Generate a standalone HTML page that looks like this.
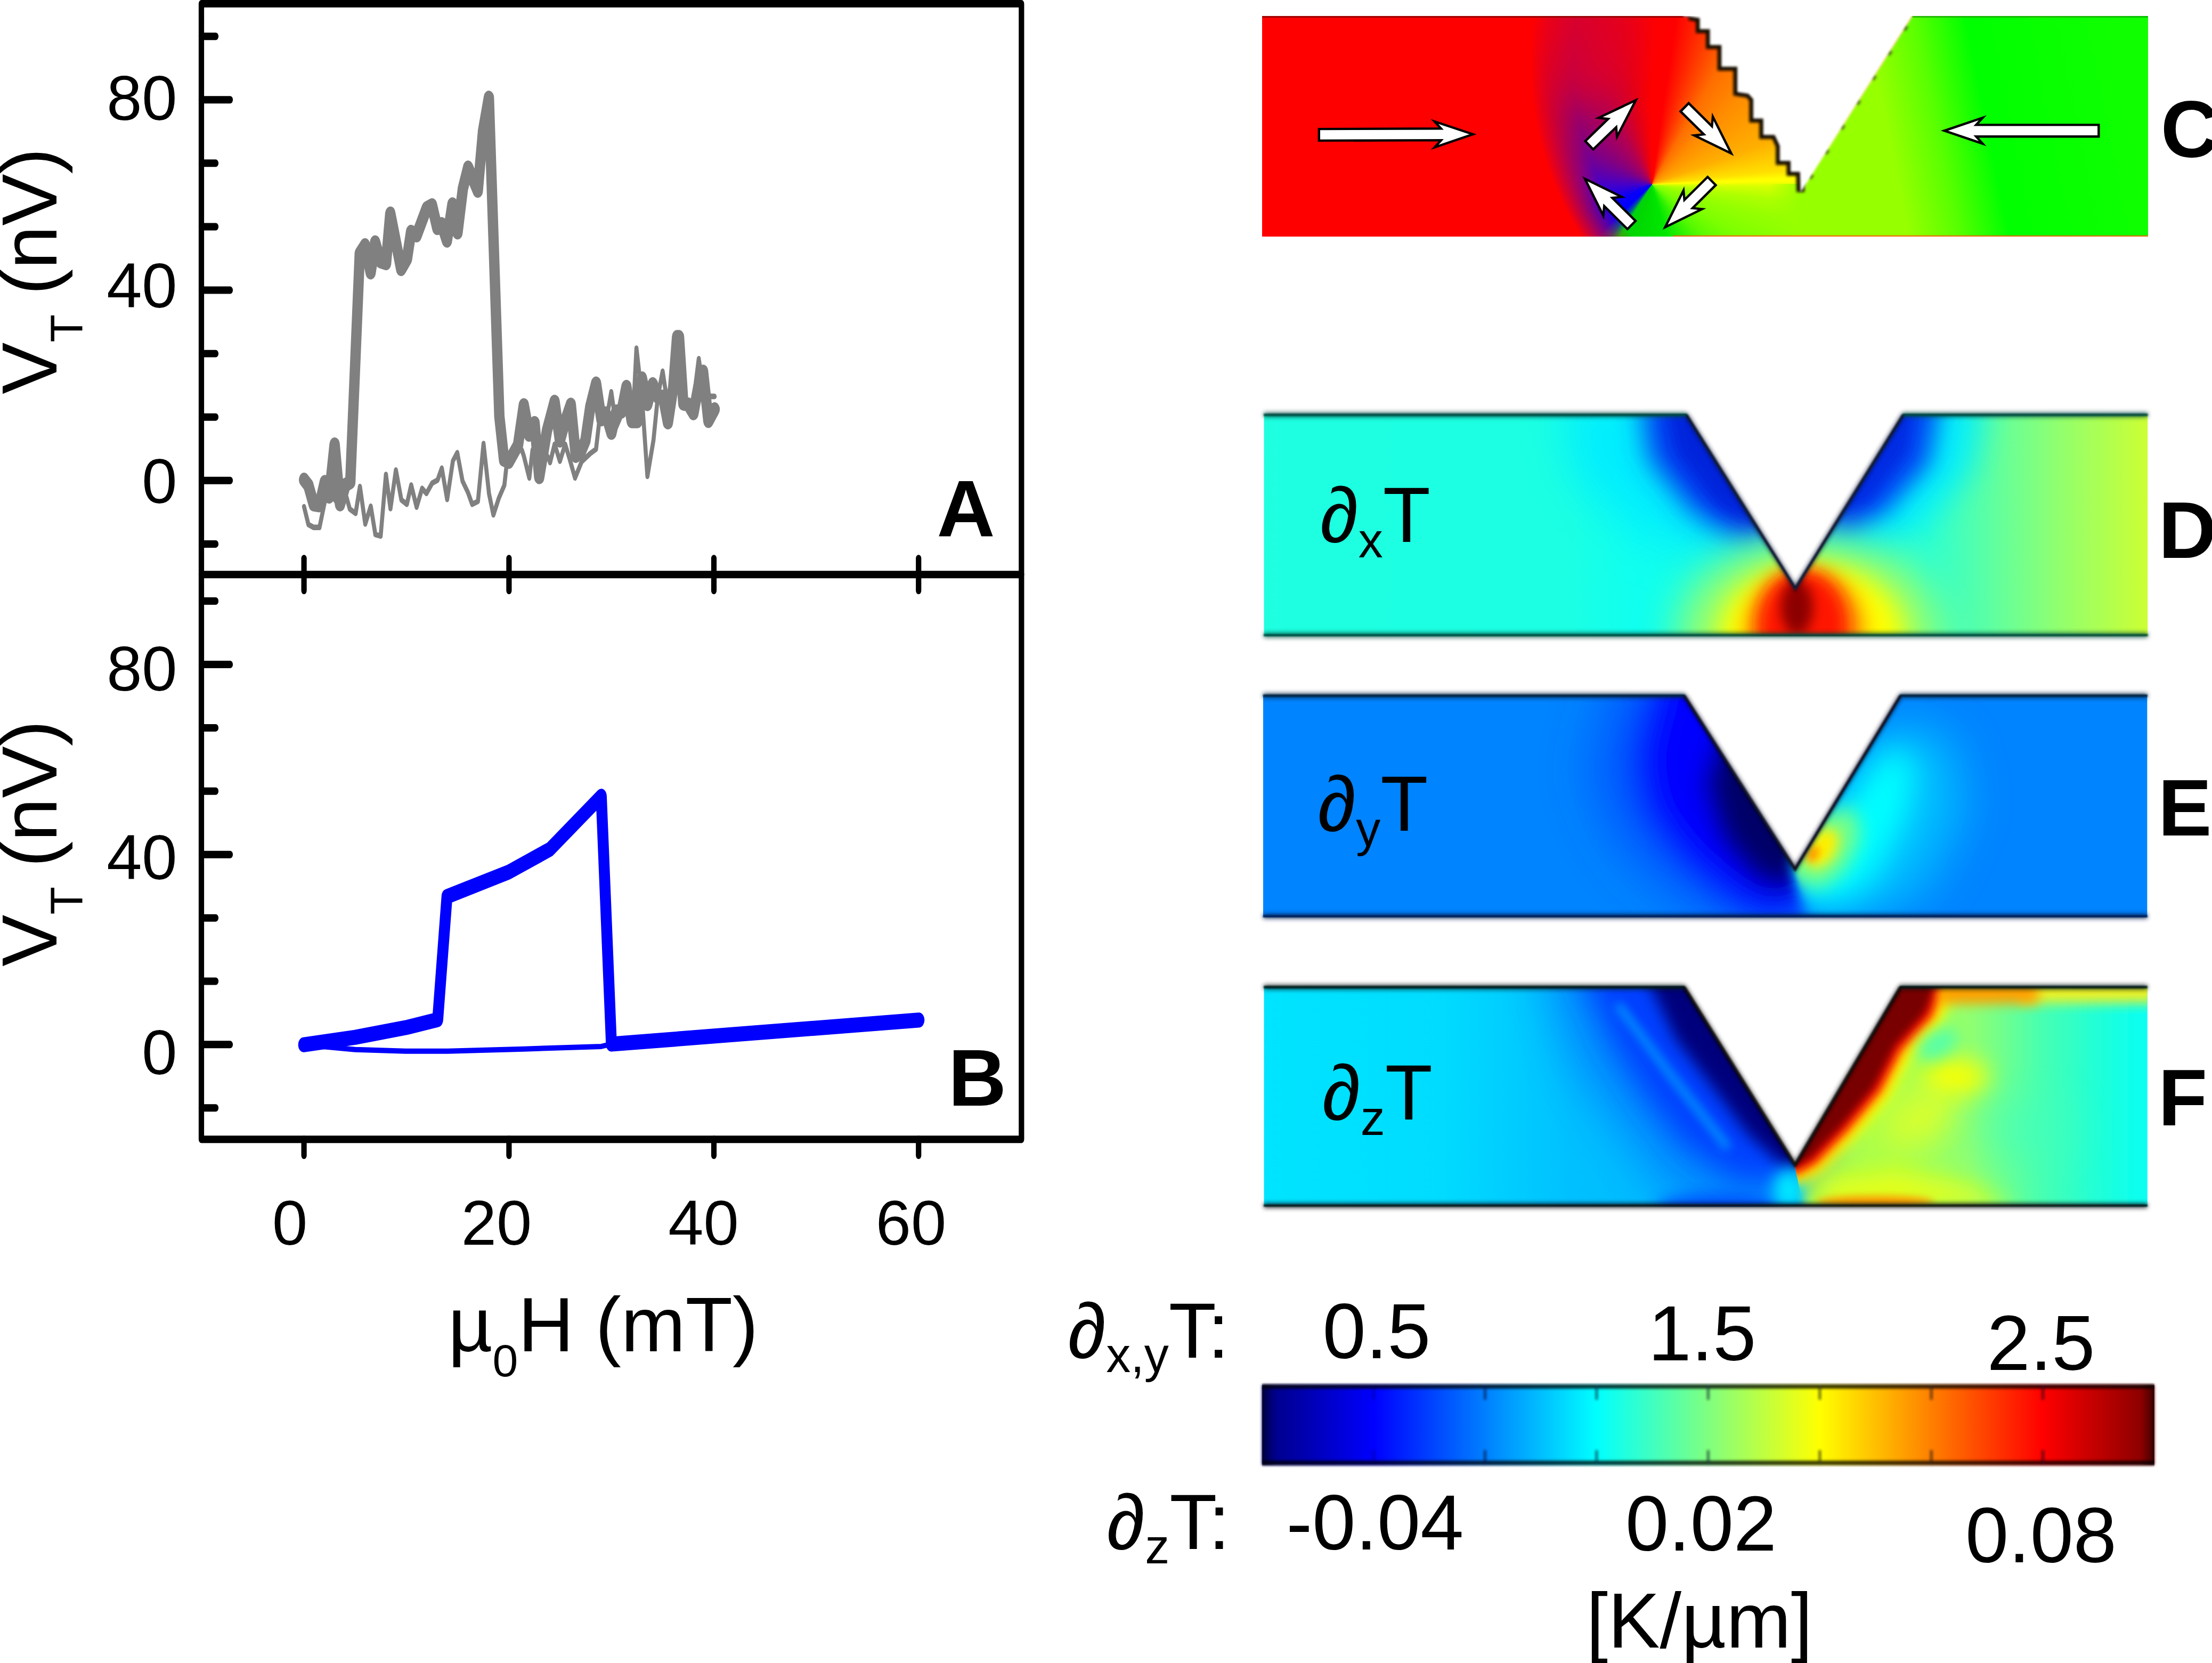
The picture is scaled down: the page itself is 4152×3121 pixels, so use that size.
<!DOCTYPE html><html><head><meta charset="utf-8"><title>Figure</title>
<style>html,body{margin:0;padding:0;background:#fff}body{width:4152px;height:3121px;position:relative;overflow:hidden}svg{position:absolute;left:0;top:0}text{font-family:"Liberation Sans", sans-serif;fill:#000}#vortex{position:absolute;left:2369px;top:30px;width:1663px;height:414px;background:conic-gradient(from 0deg at 732px 316px,#ff0000 0deg,#ff0000 8deg,#ff3c00 20deg,#ff6e00 30deg,#ff8c00 45deg,#ffaf00 70deg,#ffe000 84deg,#ffff00 87.5deg,#ffff00 88.5deg,#d7ff00 91deg,#afff00 97deg,#96ff00 105deg,#7dff00 120deg,#5afa00 135deg,#28f000 150deg,#00e600 165deg,#00d700 200deg,#00d210 212deg,#0050a0 219deg,#0000ff 227deg,#0a00f5 245deg,#4600c8 270deg,#820082 300deg,#b40050 330deg,#e60014 350deg,#ff0000 360deg)}</style></head><body>
<div id="vortex"></div>
<svg width="4152" height="3121" viewBox="0 0 4152 3121">
<defs>
<linearGradient id="jet" x1="0" x2="1" y1="0" y2="0"><stop offset="0" stop-color="#00007f"/><stop offset="0.125" stop-color="#0000ff"/><stop offset="0.375" stop-color="#00ffff"/><stop offset="0.625" stop-color="#ffff00"/><stop offset="0.875" stop-color="#ff0000"/><stop offset="1" stop-color="#7f0000"/></linearGradient>
</defs>
<g transform="scale(1,1.37)" fill="none" stroke="#000" stroke-width="10.2" stroke-linecap="round" stroke-linejoin="round">
<path d="M378.0 5.1 L1917.3 5.1 L1917.3 1560.8 L378.0 1560.8 Z"/>
<path d="M378.0 787.0 L1917.3 787.0"/>
<path d="M378.0 745.2 L405.0 745.2"/>
<path d="M378.0 658.2 L432.0 658.2"/>
<path d="M378.0 571.3 L405.0 571.3"/>
<path d="M378.0 484.4 L405.0 484.4"/>
<path d="M378.0 397.5 L432.0 397.5"/>
<path d="M378.0 310.6 L405.0 310.6"/>
<path d="M378.0 223.6 L405.0 223.6"/>
<path d="M378.0 136.7 L432.0 136.7"/>
<path d="M378.0 49.8 L405.0 49.8"/>
<path d="M378.0 1517.7 L405.0 1517.7"/>
<path d="M378.0 1430.9 L432.0 1430.9"/>
<path d="M378.0 1344.2 L405.0 1344.2"/>
<path d="M378.0 1257.4 L405.0 1257.4"/>
<path d="M378.0 1170.6 L432.0 1170.6"/>
<path d="M378.0 1083.8 L405.0 1083.8"/>
<path d="M378.0 997.0 L405.0 997.0"/>
<path d="M378.0 910.2 L432.0 910.2"/>
<path d="M378.0 823.4 L405.0 823.4"/>
<path d="M570.6 765.1 L570.6 808.9"/>
<path d="M570.6 1560.8 L570.6 1582.7"/>
<path d="M955.4 765.1 L955.4 808.9"/>
<path d="M955.4 1560.8 L955.4 1582.7"/>
<path d="M1340.0 765.1 L1340.0 808.9"/>
<path d="M1340.0 1560.8 L1340.0 1582.7"/>
<path d="M1724.2 765.1 L1724.2 808.9"/>
<path d="M1724.2 1560.8 L1724.2 1582.7"/>
</g>
<g transform="scale(1,1.37)" fill="none" stroke-linecap="round" stroke-linejoin="round">
<path d="M570.7 694.1 L578.9 718.5 L588.8 722.5 L599.7 722.5 L610.5 684.2 L620.0 675.2 L630.0 686.1 L640.0 671.5 L650.3 680.9 L656.6 697.4 L667.5 703.3 L675.6 666.4 L685.6 717.8 L695.9 693.4 L704.6 732.3 L714.5 734.3 L724.4 649.9 L732.9 696.7 L743.1 643.9 L753.4 684.8 L763.7 690.8 L771.8 664.4 L782.0 694.7 L792.3 669.0 L800.4 676.0 L811.2 661.8 L821.2 657.8 L829.3 641.3 L839.3 684.2 L850.1 631.4 L858.3 620.1 L868.2 659.1 L878.2 674.3 L886.3 690.8 L897.1 686.8 L907.6 607.6 L917.9 676.3 L926.1 705.3 L936.2 682.6 L946.7 664.7 L952.4 627.1 L962.0 620.4 L972.0 613.1 L979.6 616.6 L983.2 624.5 L993.5 654.8 L999.5 616.6 L1010.0 605.8 L1020.0 616.8 L1029.3 627.1 L1032.5 633.7 L1041.0 608.6 L1051.0 631.8 L1060.9 608.6 L1069.1 628.4 L1079.4 654.8 L1091.7 632.4 L1108.0 621.2 L1118.8 615.3 L1126.9 563.7 L1141.0 563.5 L1147.4 536.7 L1156.8 584.9 L1166.0 569.3 L1176.0 554.7 L1187.5 580.3 L1194.6 476.9 L1204.9 543.6 L1215.2 652.5 L1226.6 602.9 L1234.7 543.6 L1243.8 508.5 L1253.7 556.7 L1264.0 540.1 L1274.0 525.5 L1284.0 554.7 L1294.0 562.0 L1302.0 547.4 L1311.6 491.4 L1319.7 530.4 L1328.0 543.8 L1335.0 542.9 L1341.4 543.1" stroke="#808080" stroke-width="7.6"/>
<path d="M570.7 657.2 L578.9 665.0 L588.8 690.8 L599.7 692.1 L609.6 660.4 L617.8 680.2 L628.1 608.9 L638.2 690.8 L648.5 664.4 L657.5 660.4 L675.3 347.3 L685.2 336.1 L695.7 373.1 L704.2 332.1 L714.1 357.9 L724.6 360.5 L732.6 292.6 L753.0 368.5 L763.9 354.6 L771.6 317.7 L782.0 322.3 L801.0 285.3 L810.9 281.3 L820.8 312.3 L829.0 307.1 L838.9 329.5 L849.2 280.0 L858.8 318.3 L868.8 258.6 L878.7 229.6 L896.8 261.3 L906.7 179.4 L917.6 133.9 L937.3 570.4 L946.1 629.7 L955.2 632.4 L972.3 609.9 L983.2 555.2 L993.1 595.4 L1003.4 579.6 L1012.1 653.5 L1026.6 590.1 L1041.0 550.5 L1051.0 603.4 L1060.9 576.9 L1071.4 554.5 L1080.8 624.5 L1089.9 619.2 L1098.9 603.4 L1108.0 557.2 L1118.8 525.5 L1128.8 574.3 L1136.9 566.4 L1147.7 592.8 L1156.8 563.7 L1166.7 563.7 L1175.8 530.1 L1185.7 576.9 L1196.6 576.9 L1204.9 518.5 L1215.2 553.4 L1225.3 526.4 L1234.7 543.6 L1244.7 543.6 L1253.7 578.5 L1263.7 530.4 L1270.9 461.7 L1274.5 461.7 L1282.6 552.8 L1291.7 554.1 L1301.6 566.0 L1310.7 530.4 L1319.7 509.2 L1329.7 576.6 L1341.4 560.7" stroke="#808080" stroke-width="19.5"/>
<path d="M570.0 1431.2 L666.6 1437.7 L761.5 1440.0 L840.6 1440.0 L983.0 1437.0 L1128.6 1433.5 L1147.6 1430.1" stroke="#0000ff" stroke-width="7.3"/>
<path d="M570.0 1431.2 L666.6 1421.0 L764.7 1407.2 L821.6 1396.8 L839.0 1228.2 L954.6 1194.7 L1032.0 1163.5 L1128.6 1090.7 L1147.6 1430.3 L1725.0 1397.4" stroke="#0000ff" stroke-width="20.6"/>
</g>
<text x="332.5" y="224.5" font-size="119" text-anchor="end" font-weight="normal">80</text>
<text x="332.5" y="576.5" font-size="119" text-anchor="end" font-weight="normal">40</text>
<text x="332.5" y="943.5" font-size="119" text-anchor="end" font-weight="normal">0</text>
<text x="332.5" y="1296.0" font-size="119" text-anchor="end" font-weight="normal">80</text>
<text x="332.5" y="1649.5" font-size="119" text-anchor="end" font-weight="normal">40</text>
<text x="332.5" y="2016.0" font-size="119" text-anchor="end" font-weight="normal">0</text>
<text x="544.0" y="2336.0" font-size="119" text-anchor="middle" font-weight="normal">0</text>
<text x="932.0" y="2336.0" font-size="119" text-anchor="middle" font-weight="normal">20</text>
<text x="1320.5" y="2336.0" font-size="119" text-anchor="middle" font-weight="normal">40</text>
<text x="1710.0" y="2336.0" font-size="119" text-anchor="middle" font-weight="normal">60</text>
<text x="1758.5" y="1006.0" font-size="151" text-anchor="start" font-weight="bold">A</text>
<text x="1780.0" y="2074.5" font-size="151" text-anchor="start" font-weight="bold">B</text>
<text x="841" y="2535.5" font-size="145">µ<tspan font-size="86" dy="47">0</tspan><tspan dy="-47">H (mT)</tspan></text>
<text transform="translate(106,740) rotate(-90)" font-size="146">V<tspan font-size="86" dy="48">T</tspan><tspan dy="-48" dx="-4"> (nV)</tspan></text>
<text transform="translate(106,1814) rotate(-90)" font-size="146">V<tspan font-size="86" dy="48">T</tspan><tspan dy="-48" dx="-4"> (nV)</tspan></text>
<defs>
<radialGradient id="cRed" gradientUnits="userSpaceOnUse" cx="3473.7" cy="118" r="700"><stop offset="0" stop-color="#ff0000" stop-opacity="0"/><stop offset="0.745" stop-color="#ff0000" stop-opacity="0"/><stop offset="0.86" stop-color="#ff0000" stop-opacity="1"/><stop offset="1" stop-color="#ff0000" stop-opacity="1"/></radialGradient>
<linearGradient id="cTopRed" gradientUnits="userSpaceOnUse" x1="0" x2="0" y1="30" y2="270"><stop offset="0" stop-color="#e60020" stop-opacity="0.6"/><stop offset="1" stop-color="#e60020" stop-opacity="0"/></linearGradient>
<linearGradient id="cGreen" gradientUnits="userSpaceOnUse" x1="3378" x2="4006" y1="300" y2="174"><stop offset="0" stop-color="#96ff00"/><stop offset="0.27" stop-color="#96ff00"/><stop offset="0.41" stop-color="#5aff00"/><stop offset="0.56" stop-color="#00ff00"/><stop offset="1" stop-color="#10ff00"/></linearGradient>
<linearGradient id="cGreenFade" gradientUnits="userSpaceOnUse" x1="3320" x2="3382" y1="0" y2="0"><stop offset="0" stop-color="#96ff00" stop-opacity="0"/><stop offset="1" stop-color="#96ff00" stop-opacity="1"/></linearGradient>
<clipPath id="clipC"><rect x="2369.0" y="30.0" width="1663.0" height="414.0"/></clipPath>
<filter id="b3" filterUnits="userSpaceOnUse" x="3100" y="0" width="600" height="460"><feGaussianBlur stdDeviation="2.6"/></filter>
<filter id="b30" x="-60%" y="-60%" width="220%" height="220%"><feGaussianBlur stdDeviation="32"/></filter>
<filter id="b2" filterUnits="userSpaceOnUse" x="2300" y="0" width="1800" height="500"><feGaussianBlur stdDeviation="2"/></filter>
</defs>
<g clip-path="url(#clipC)">
<ellipse cx="2985" cy="50" rx="95" ry="150" fill="#e60020" opacity="0.6" filter="url(#b30)"/>
<rect x="2369.0" y="30.0" width="900" height="414.0" fill="url(#cRed)"/>
<rect x="3320" y="345" width="70" height="102" fill="url(#cGreenFade)"/>
<polygon points="3379,358 3589,30 4032,30 4032,444 3379,444" fill="url(#cGreen)" filter="url(#b2)"/>
<polygon points="3400,380 3600,40 4032,30 4032,444 3400,444" fill="url(#cGreen)"/>
<path d="M2369.0 31.5 H3172" stroke="#8c0000" stroke-width="3.5" opacity="0.8"/>
<path d="M3589 31.5 H4032.0" stroke="#00a800" stroke-width="3" opacity="0.7"/>
<path d="M3140 443 H4032.0" stroke="#ff5a00" stroke-width="2.5" opacity="0.85"/>
</g>
<polyline points="3170.2,30.5 3190.5,34.0 3190.5,54.8 3209.5,54.8 3209.5,84.6 3231.2,84.6 3231.2,125.3 3261.0,125.3 3261.0,172.8 3282.0,176.0 3290.9,186.0 3290.9,222.5 3309.7,222.5 3309.7,253.2 3331.2,253.2 3340.7,273.6 3340.7,302.0 3361.0,302.0 3361.0,322.4 3378.7,322.4 3379.7,360.4" fill="none" stroke="#140a00" stroke-width="15" stroke-linejoin="miter" filter="url(#b3)"/>
<path d="M3381 358 L3589 30.5" stroke="#2a3c00" stroke-width="9" stroke-dasharray="9 46" stroke-dashoffset="-28" fill="none" opacity="0.8" filter="url(#b3)"/>
<polygon points="3170.2,30.5 3190.5,34.0 3190.5,54.8 3209.5,54.8 3209.5,84.6 3231.2,84.6 3231.2,125.3 3261.0,125.3 3261.0,172.8 3282.0,176.0 3290.9,186.0 3290.9,222.5 3309.7,222.5 3309.7,253.2 3331.2,253.2 3340.7,273.6 3340.7,302.0 3361.0,302.0 3361.0,322.4 3378.7,322.4 3379.7,360.4 3383.0,356.0 3589.0,30.5 3589.0,20.0 3160.0,20.0 3160.0,30.5" fill="#fff" filter="url(#b2)"/>
<rect x="3150" y="0" width="460" height="30" fill="#fff"/>
<polygon points="2990.6,280.4 3033.6,238.7 3035.2,256.6 3070.5,188.0 3000.8,221.1 3018.6,223.2 2975.6,264.8" fill="#fff" stroke="#000" stroke-width="4.4" stroke-linejoin="miter"/>
<polygon points="3154.5,209.1 3198.1,252.2 3180.3,254.2 3249.6,288.0 3215.0,219.0 3213.3,236.9 3169.7,193.7" fill="#fff" stroke="#000" stroke-width="4.4" stroke-linejoin="miter"/>
<polygon points="3205.3,332.0 3161.7,375.2 3160.0,357.4 3125.5,426.4 3194.8,392.5 3177.0,390.6 3220.5,347.4" fill="#fff" stroke="#000" stroke-width="4.4" stroke-linejoin="miter"/>
<polygon points="3070.0,414.6 3026.4,371.4 3044.2,369.5 2974.9,335.6 3009.4,404.6 3011.2,386.7 3054.8,430.0" fill="#fff" stroke="#000" stroke-width="4.4" stroke-linejoin="miter"/>
<polygon points="2475.8,263.9 2705.0,263.1 2692.9,276.5 2764.7,252.0 2692.7,228.0 2704.9,241.3 2475.8,242.1" fill="#fff" stroke="#000" stroke-width="4.4" stroke-linejoin="miter"/>
<polygon points="3939.3,234.4 3709.3,234.4 3721.5,221.0 3649.6,245.3 3721.5,269.6 3709.3,256.2 3939.3,256.2" fill="#fff" stroke="#000" stroke-width="4.4" stroke-linejoin="miter"/>
<text x="4055.8" y="295.0" font-size="151" text-anchor="start" font-weight="bold">C</text>
<defs><filter id="bl4" x="-50%" y="-50%" width="200%" height="200%"><feGaussianBlur stdDeviation="4"/></filter><filter id="bl6" x="-50%" y="-50%" width="200%" height="200%"><feGaussianBlur stdDeviation="6"/></filter><filter id="bl7" x="-50%" y="-50%" width="200%" height="200%"><feGaussianBlur stdDeviation="7"/></filter><filter id="bl8" x="-50%" y="-50%" width="200%" height="200%"><feGaussianBlur stdDeviation="8"/></filter><filter id="bl9" x="-50%" y="-50%" width="200%" height="200%"><feGaussianBlur stdDeviation="9"/></filter><filter id="bl10" x="-50%" y="-50%" width="200%" height="200%"><feGaussianBlur stdDeviation="10"/></filter><filter id="bl11" x="-50%" y="-50%" width="200%" height="200%"><feGaussianBlur stdDeviation="11"/></filter><filter id="bl12" x="-50%" y="-50%" width="200%" height="200%"><feGaussianBlur stdDeviation="12"/></filter><filter id="bl13" x="-50%" y="-50%" width="200%" height="200%"><feGaussianBlur stdDeviation="13"/></filter><filter id="bl14" x="-50%" y="-50%" width="200%" height="200%"><feGaussianBlur stdDeviation="14"/></filter><filter id="bl15" x="-50%" y="-50%" width="200%" height="200%"><feGaussianBlur stdDeviation="15"/></filter><filter id="bl17" x="-50%" y="-50%" width="200%" height="200%"><feGaussianBlur stdDeviation="17"/></filter><filter id="bl18" x="-50%" y="-50%" width="200%" height="200%"><feGaussianBlur stdDeviation="18"/></filter><filter id="bl21" x="-50%" y="-50%" width="200%" height="200%"><feGaussianBlur stdDeviation="21"/></filter><filter id="bl22" x="-50%" y="-50%" width="200%" height="200%"><feGaussianBlur stdDeviation="22"/></filter><filter id="bl26" x="-50%" y="-50%" width="200%" height="200%"><feGaussianBlur stdDeviation="26"/></filter><filter id="bl28" x="-50%" y="-50%" width="200%" height="200%"><feGaussianBlur stdDeviation="28"/></filter><filter id="bl30" x="-50%" y="-50%" width="200%" height="200%"><feGaussianBlur stdDeviation="30"/></filter><filter id="bl38" x="-50%" y="-50%" width="200%" height="200%"><feGaussianBlur stdDeviation="38"/></filter><filter id="bl40" x="-50%" y="-50%" width="200%" height="200%"><feGaussianBlur stdDeviation="40"/></filter><filter id="bl42" x="-50%" y="-50%" width="200%" height="200%"><feGaussianBlur stdDeviation="42"/></filter><filter id="bl45" x="-50%" y="-50%" width="200%" height="200%"><feGaussianBlur stdDeviation="45"/></filter><filter id="edge" filterUnits="userSpaceOnUse" x="2300" y="700" width="1800" height="1700"><feGaussianBlur stdDeviation="1.5"/></filter><filter id="edgeSoft" filterUnits="userSpaceOnUse" x="2300" y="700" width="1800" height="1700"><feGaussianBlur stdDeviation="4.5"/></filter></defs><linearGradient id="gD" gradientUnits="userSpaceOnUse" x1="2372.3" x2="4031.4" y1="0" y2="0"><stop offset="0.0000" stop-color="#1fffe0"/><stop offset="0.0250" stop-color="#1effe1"/><stop offset="0.0500" stop-color="#1effe1"/><stop offset="0.0750" stop-color="#1effe1"/><stop offset="0.1000" stop-color="#1effe1"/><stop offset="0.1250" stop-color="#1effe1"/><stop offset="0.1500" stop-color="#1dffe2"/><stop offset="0.1750" stop-color="#1dffe2"/><stop offset="0.2000" stop-color="#1dffe2"/><stop offset="0.2250" stop-color="#1dffe2"/><stop offset="0.2500" stop-color="#1cffe3"/><stop offset="0.2750" stop-color="#1cffe3"/><stop offset="0.3000" stop-color="#1cffe3"/><stop offset="0.3250" stop-color="#1cffe3"/><stop offset="0.3500" stop-color="#1bffe4"/><stop offset="0.3750" stop-color="#17ffe8"/><stop offset="0.4000" stop-color="#13ffec"/><stop offset="0.4250" stop-color="#10ffef"/><stop offset="0.4500" stop-color="#13ffec"/><stop offset="0.4750" stop-color="#17ffe8"/><stop offset="0.5000" stop-color="#1bffe4"/><stop offset="0.5250" stop-color="#1effe1"/><stop offset="0.5500" stop-color="#22ffdd"/><stop offset="0.5750" stop-color="#25ffda"/><stop offset="0.6000" stop-color="#26ffd9"/><stop offset="0.6250" stop-color="#27ffd8"/><stop offset="0.6500" stop-color="#29ffd6"/><stop offset="0.6750" stop-color="#2affd5"/><stop offset="0.7000" stop-color="#2bffd4"/><stop offset="0.7250" stop-color="#2cffd3"/><stop offset="0.7500" stop-color="#2effd1"/><stop offset="0.7750" stop-color="#3dffc2"/><stop offset="0.8000" stop-color="#4effb1"/><stop offset="0.8250" stop-color="#5fffa0"/><stop offset="0.8500" stop-color="#70ff8f"/><stop offset="0.8750" stop-color="#80ff7f"/><stop offset="0.9000" stop-color="#91ff6e"/><stop offset="0.9250" stop-color="#a0ff5f"/><stop offset="0.9500" stop-color="#aeff51"/><stop offset="0.9750" stop-color="#bdff42"/><stop offset="1.0000" stop-color="#ccff33"/></linearGradient>
<clipPath id="clipD"><polygon points="2372.3,777.5 3164.5,777.5 3369.9,1106 3573.3,777.5 4031.4,777.5 4031.4,1194 2372.3,1194"/></clipPath>
<g clip-path="url(#clipD)">
<rect x="2372.3" y="777.5" width="1659.1" height="416.5" fill="url(#gD)"/>
<polygon points="3400,740 2930,740 2960,900 3090,1010 3225,1055 3325,1038 3400,1038" fill="#00ecff" opacity="0.95" filter="url(#bl42)"/>
<polygon points="3340,740 3725,740 3700,880 3600,990 3500,1050 3415,1040 3340,1040" fill="#00ecff" opacity="0.95" filter="url(#bl30)"/>
<polygon points="3400,740 3080,740 3095,860 3175,960 3262,1012 3305,1003 3400,1003" fill="#0038f0" opacity="1" filter="url(#bl26)"/>
<polygon points="3400,740 3125,740 3150,850 3225,950 3290,985 3400,985" fill="#0020d8" opacity="0.9" filter="url(#bl14)"/>
<polygon points="3340,740 3645,740 3622,870 3542,960 3470,1000 3436,992 3340,992" fill="#0048f4" opacity="1" filter="url(#bl22)"/>
<polygon points="3340,740 3600,740 3580,850 3510,940 3465,960 3340,960" fill="#0028e0" opacity="0.85" filter="url(#bl12)"/>
<ellipse cx="3398" cy="1195" rx="245" ry="185" fill="#b4ff50" opacity="0.85" filter="url(#bl38)"/>
<ellipse cx="3400" cy="1192" rx="172" ry="132" fill="#ffff00" opacity="1" filter="url(#bl22)"/>
<ellipse cx="3388" cy="1185" rx="112" ry="118" fill="#ff9000" opacity="1" filter="url(#bl18)"/>
<ellipse cx="3384" cy="1175" rx="84" ry="104" fill="#ff1800" opacity="1" filter="url(#bl15)"/>
<ellipse cx="3373" cy="1140" rx="30" ry="52" fill="#8c0000" opacity="1" filter="url(#bl11)"/>
</g>
<g filter="url(#edgeSoft)" fill="none" opacity="0.75">
<path d="M2372.3 778.5 L3166.5 778.5 M3571.3 778.5 L4031.4 778.5" stroke="#004840" stroke-width="9"/>
<path d="M2372.3 1192 L4031.4 1192" stroke="#00483c" stroke-width="9"/>
<path d="M3165.5 778.5 L3369.9 1104 L3572.3 778.5" stroke="#101830" stroke-width="7" stroke-linejoin="miter"/>
</g>
<g filter="url(#edge)" fill="none" opacity="1">
<path d="M2372.3 778.5 L3166.5 778.5 M3571.3 778.5 L4031.4 778.5" stroke="#004840" stroke-width="4.5"/>
<path d="M2372.3 1192 L4031.4 1192" stroke="#00483c" stroke-width="4.2"/>
<path d="M3165.5 778.5 L3369.9 1104 L3572.3 778.5" stroke="#101830" stroke-width="5" stroke-linejoin="miter"/>
</g>
<clipPath id="clipE"><polygon points="2371,1304.5 3160.5,1304.5 3369.4,1633 3568.3,1304.5 4030.6,1304.5 4030.6,1721.5 2371,1721.5"/></clipPath>
<g clip-path="url(#clipE)">
<rect x="2371" y="1304.5" width="1659.6" height="417" fill="#0084ff"/>
<clipPath id="clipEl"><polygon points="2300,1250 3369,1250 3369,1633 3400,1740 2300,1740"/></clipPath>
<clipPath id="clipEr"><polygon points="3369,1250 4100,1250 4100,1740 3400,1740 3369,1633"/></clipPath>
<g filter="url(#bl13)"><g clip-path="url(#clipEl)">
<polygon points="3420,1250 3040,1250 2985,1450 3040,1585 3150,1685 3285,1760 3420,1760 3420,1633" fill="#0050ff" opacity="0.9" filter="url(#bl45)"/>
<polygon points="3420,1250 3128,1250 3082,1420 3100,1520 3170,1612 3270,1692 3335,1712 3385,1690 3420,1600" fill="#0000ff" opacity="1" filter="url(#bl30)"/>
<polygon points="3235,1380 3205,1470 3235,1570 3290,1640 3345,1668 3380,1640 3420,1600 3420,1380" fill="#000068" opacity="1" filter="url(#bl21)"/>
</g></g>
<g filter="url(#bl13)"><g clip-path="url(#clipEr)">
<polygon points="3340,1633 3480,1430 3565,1350 3665,1390 3690,1520 3615,1670 3490,1735 3380,1720 3340,1700" fill="#00c0ff" opacity="0.95" filter="url(#bl40)"/>
<polygon points="3340,1633 3470,1500 3550,1395 3597,1440 3577,1540 3516,1652 3440,1696 3380,1675 3340,1670" fill="#00ffff" opacity="1" filter="url(#bl26)"/>
</g></g>
<g filter="url(#bl4)"><g clip-path="url(#clipEr)">
<polygon points="3340,1640 3340,1560 3425,1530 3478,1515 3492,1570 3462,1632 3415,1668" fill="#7cff80" opacity="1" filter="url(#bl17)"/>
<ellipse cx="3420" cy="1592" rx="25" ry="40" fill="#fff000" opacity="1" filter="url(#bl10)" transform="rotate(32 3420 1592)"/>
<ellipse cx="3403" cy="1603" rx="10" ry="17" fill="#ff9800" opacity="1" filter="url(#bl6)" transform="rotate(32 3403 1603)"/>
</g></g>
</g>
<g filter="url(#edgeSoft)" fill="none" opacity="0.75">
<path d="M2371 1305.5 L3162.5 1305.5 M3566.3 1305.5 L4030.6 1305.5" stroke="#002040" stroke-width="9"/>
<path d="M2371 1719.5 L4030.6 1719.5" stroke="#001c50" stroke-width="9"/>
<path d="M3161.5 1305.5 L3369.4 1631 L3567.3 1305.5" stroke="#081020" stroke-width="7" stroke-linejoin="miter"/>
</g>
<g filter="url(#edge)" fill="none" opacity="1">
<path d="M2371 1305.5 L3162.5 1305.5 M3566.3 1305.5 L4030.6 1305.5" stroke="#002040" stroke-width="4.5"/>
<path d="M2371 1719.5 L4030.6 1719.5" stroke="#001c50" stroke-width="4.2"/>
<path d="M3161.5 1305.5 L3369.4 1631 L3567.3 1305.5" stroke="#081020" stroke-width="5" stroke-linejoin="miter"/>
</g>
<linearGradient id="gF" gradientUnits="userSpaceOnUse" x1="3369" x2="4030.6" y1="0" y2="0"><stop offset="0.0000" stop-color="#a8ff50"/><stop offset="0.2887" stop-color="#b0ff48"/><stop offset="0.5003" stop-color="#90ff70"/><stop offset="0.6968" stop-color="#48ffb0"/><stop offset="0.8631" stop-color="#20ffd8"/><stop offset="1.0000" stop-color="#08fff4"/></linearGradient>
<clipPath id="clipF"><polygon points="2372.3,1851.5 3160.5,1851.5 3369.4,2188 3568,1851.5 4030.6,1851.5 4030.6,2264.5 2372.3,2264.5"/></clipPath>
<g clip-path="url(#clipF)">
<linearGradient id="gFl" gradientUnits="userSpaceOnUse" x1="2372.3" x2="3369" y1="0" y2="0"><stop offset="0.0000" stop-color="#00e4ff"/><stop offset="0.3288" stop-color="#00dcff"/><stop offset="0.5796" stop-color="#00c0ff"/><stop offset="1.0000" stop-color="#00b4ff"/></linearGradient>
<rect x="2372.3" y="1851.5" width="1658.3" height="413" fill="url(#gFl)"/>
<polygon points="3369,2188 3568,1840 4050.6,1840 4050.6,2284.5 3388,2284.5" fill="url(#gF)" opacity="1" filter="url(#bl8)"/>
<polygon points="3420,1800 2890,1800 2955,2000 3040,2120 3120,2225 3200,2300 3335,2300 3369,2188 3420,2150" fill="#0088ff" opacity="0.95" filter="url(#bl42)"/>
<polygon points="3420,1800 2955,1800 3028,1960 3090,2060 3160,2150 3260,2218 3340,2218 3369,2188 3420,2150" fill="#0040ff" opacity="1" filter="url(#bl28)"/>
<polyline points="3040,1890 3130,2010 3240,2150" fill="none" stroke="#00a8ff" stroke-width="16" stroke-linecap="round" stroke-linejoin="round" opacity="0.75" filter="url(#bl9)"/>
<polygon points="3420,1800 3075,1800 3145,1950 3214,2040 3282,2130 3342,2184 3369,2188 3420,2150" fill="#00007c" opacity="1" filter="url(#bl14)"/>
<ellipse cx="3225" cy="2266" rx="115" ry="24" fill="#0048ff" opacity="0.9" filter="url(#bl14)"/>
<ellipse cx="3357" cy="2232" rx="28" ry="36" fill="#00f0ff" opacity="0.9" filter="url(#bl14)"/>
<clipPath id="clipFr"><polygon points="3369,1800 4100,1800 4100,2300 3392,2300 3369,2188"/></clipPath><g clip-path="url(#clipFr)">
<polygon points="3369,1800 3652,1800 3612,1900 3556,1962 3516,2040 3456,2112 3398,2172 3369,2188" fill="#ffff00" stroke="#ffff00" stroke-width="70" stroke-linejoin="round" opacity="1" filter="url(#bl12)"/>
<polygon points="3369,1800 3652,1800 3612,1900 3556,1962 3516,2040 3456,2112 3398,2172 3369,2188" fill="#ff9000" stroke="#ff9000" stroke-width="44" stroke-linejoin="round" opacity="1" filter="url(#bl10)"/>
<polygon points="3369,1800 3652,1800 3612,1900 3556,1962 3516,2040 3456,2112 3398,2172 3369,2188" fill="#ff1000" stroke="#ff1000" stroke-width="24" stroke-linejoin="round" opacity="1" filter="url(#bl8)"/>
<polygon points="3369,1800 3652,1800 3612,1900 3556,1962 3516,2040 3456,2112 3398,2172 3369,2188" fill="#780000" stroke="#780000" stroke-width="4" stroke-linejoin="round" opacity="1" filter="url(#bl8)"/>
</g>
<rect x="3790" y="1840" width="270" height="42" fill="#f0f020" opacity="1" filter="url(#bl11)"/>
<rect x="3640" y="1840" width="185" height="44" fill="#ffa000" filter="url(#bl11)"/>
<ellipse cx="3672" cy="2022" rx="62" ry="34" fill="#ffff00" opacity="0.95" filter="url(#bl22)"/>
<ellipse cx="3610" cy="2095" rx="70" ry="40" fill="#e8ff20" opacity="0.8" filter="url(#bl28)" transform="rotate(-35 3610 2095)"/>
<polygon points="3430,2215 3560,2200 3700,2225 3780,2263 3400,2263" fill="#f0ff10" opacity="0.85" filter="url(#bl22)"/>
<ellipse cx="3520" cy="2255" rx="110" ry="11" fill="#ff9c00" opacity="1" filter="url(#bl7)"/>
<ellipse cx="3637" cy="1960" rx="42" ry="24" fill="#50ffb0" opacity="0.9" filter="url(#bl14)" transform="rotate(-30 3637 1960)"/>
<ellipse cx="3800" cy="2120" rx="90" ry="60" fill="#40ffc0" opacity="0.6" filter="url(#bl40)"/>
</g>
<g filter="url(#edgeSoft)" fill="none" opacity="0.75">
<path d="M2372.3 1852.5 L3162.5 1852.5 M3566 1852.5 L4030.6 1852.5" stroke="#001818" stroke-width="9"/>
<path d="M2372.3 2262.5 L4030.6 2262.5" stroke="#081018" stroke-width="9"/>
<path d="M3161.5 1852.5 L3369.4 2186 L3567 1852.5" stroke="#100808" stroke-width="7" stroke-linejoin="miter"/>
</g>
<g filter="url(#edge)" fill="none" opacity="1">
<path d="M2372.3 1852.5 L3162.5 1852.5 M3566 1852.5 L4030.6 1852.5" stroke="#001818" stroke-width="4.5"/>
<path d="M2372.3 2262.5 L4030.6 2262.5" stroke="#081018" stroke-width="4.2"/>
<path d="M3161.5 1852.5 L3369.4 2186 L3567 1852.5" stroke="#100808" stroke-width="5" stroke-linejoin="miter"/>
</g>
<text x="2477.5" y="1016.5" font-size="146">∂<tspan font-size="92" dy="29">x</tspan><tspan dy="-29">T</tspan></text>
<text x="2473" y="1558.5" font-size="146">∂<tspan font-size="92" dy="29">y</tspan><tspan dy="-29">T</tspan></text>
<text x="2481.5" y="2101" font-size="146">∂<tspan font-size="92" dy="29">z</tspan><tspan dy="-29">T</tspan></text>
<text x="4051.4" y="1046.6" font-size="151" font-weight="bold">D</text>
<text x="4050.7" y="1567.5" font-size="151" font-weight="bold">E</text>
<text x="4051" y="2112" font-size="151" font-weight="bold">F</text>
<defs><filter id="cbb" filterUnits="userSpaceOnUse" x="2300" y="2550" width="1800" height="260"><feGaussianBlur stdDeviation="2.6"/></filter><linearGradient id="cbL" x1="0" x2="1" y1="0" y2="0"><stop offset="0" stop-color="#000" stop-opacity="0.45"/><stop offset="1" stop-color="#000" stop-opacity="0"/></linearGradient><linearGradient id="cbR" x1="0" x2="1" y1="0" y2="0"><stop offset="0" stop-color="#000" stop-opacity="0"/><stop offset="1" stop-color="#000" stop-opacity="0.45"/></linearGradient><clipPath id="clipCB"><rect x="2368.7" y="2595.0" width="1675.3" height="158.5"/></clipPath></defs>
<rect x="2368.7" y="2599.0" width="1675.3" height="150.5" fill="url(#jet)" filter="url(#cbb)"/>
<rect x="2369.7" y="2602.0" width="1673.3" height="144.5" fill="url(#jet)"/>
<g clip-path="url(#clipCB)">
<rect x="2368.7" y="2599.0" width="26" height="150.5" fill="url(#cbL)"/>
<rect x="4018.0" y="2599.0" width="26" height="150.5" fill="url(#cbR)"/>
<g filter="url(#cbb)" opacity="0.8">
<path d="M2368.7 2602.0 H4044.0 M2368.7 2745.5 H4044.0" stroke="#000" stroke-width="8" fill="none"/>
<path d="M2369.7 2599.0 V2749.5 M4043.0 2599.0 V2749.5" stroke="#000" stroke-width="5" fill="none" opacity="0.6"/>
<path d="M2578.1 2599.0 v28 M2578.1 2749.5 v-28" stroke="#001020" stroke-width="4" opacity="0.35"/>
<path d="M2787.5 2599.0 v28 M2787.5 2749.5 v-28" stroke="#001020" stroke-width="4" opacity="0.85"/>
<path d="M2996.9 2599.0 v28 M2996.9 2749.5 v-28" stroke="#001020" stroke-width="4" opacity="0.85"/>
<path d="M3206.3 2599.0 v28 M3206.3 2749.5 v-28" stroke="#001020" stroke-width="4" opacity="0.85"/>
<path d="M3415.8 2599.0 v28 M3415.8 2749.5 v-28" stroke="#001020" stroke-width="4" opacity="0.85"/>
<path d="M3625.2 2599.0 v28 M3625.2 2749.5 v-28" stroke="#001020" stroke-width="4" opacity="0.85"/>
<path d="M3834.6 2599.0 v28 M3834.6 2749.5 v-28" stroke="#001020" stroke-width="4" opacity="0.85"/>
</g></g>
<text x="2004" y="2548" font-size="146">∂<tspan font-size="92" dy="27">x,y</tspan><tspan dy="-27">T:</tspan></text>
<text x="2077" y="2906.5" font-size="146">∂<tspan font-size="92" dy="27">z</tspan><tspan dy="-27">T:</tspan></text>
<text x="2584.0" y="2549.0" font-size="146" text-anchor="middle" font-weight="normal">0.5</text>
<text x="3195.0" y="2552.5" font-size="146" text-anchor="middle" font-weight="normal">1.5</text>
<text x="3831.0" y="2571.0" font-size="146" text-anchor="middle" font-weight="normal">2.5</text>
<text x="2581.0" y="2908.0" font-size="146" text-anchor="middle" font-weight="normal">-0.04</text>
<text x="3193.0" y="2910.0" font-size="146" text-anchor="middle" font-weight="normal">0.02</text>
<text x="3831.0" y="2932.0" font-size="146" text-anchor="middle" font-weight="normal">0.08</text>
<text x="3190.0" y="3092.0" font-size="146" text-anchor="middle" font-weight="normal">[K/µm]</text>
</svg></body></html>
